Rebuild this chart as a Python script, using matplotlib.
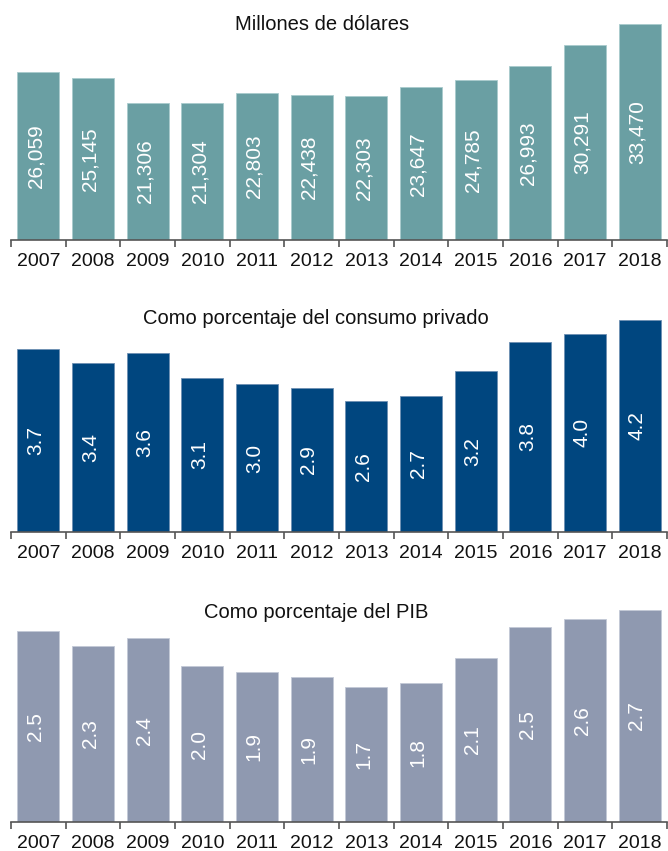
import matplotlib
matplotlib.use("Agg")
import matplotlib.pyplot as plt
from matplotlib.ticker import FixedLocator, NullFormatter
import numpy as np

years = ["2007", "2008", "2009", "2010", "2011", "2012", "2013", "2014", "2015", "2016", "2017", "2018"]
millones = [26059, 25145, 21306, 21304, 22803, 22438, 22303, 23647, 24785, 26993, 30291, 33470]
pct_consumo = [3.66, 3.39, 3.58, 3.08, 2.96, 2.88, 2.62, 2.73, 3.23, 3.81, 3.97, 4.24]
pct_pib = [2.46, 2.27, 2.37, 2.01, 1.94, 1.87, 1.74, 1.79, 2.12, 2.52, 2.62, 2.74]

titles = ["Millones de dólares", "Como porcentaje del consumo privado", "Como porcentaje del PIB"]
colors = ["#6a9fa3", "#00467f", "#8f99b0"]
edges = ["#a9cbcd", "#6e8fb3", "#c3c9d6"]
series = [millones, pct_consumo, pct_pib]
fmts = [lambda v: f"{v:,.0f}", lambda v: f"{v:.1f}", lambda v: f"{v:.1f}"]

W, H = 668, 851
# panel geometry in pixels: (top, baseline, ymax)
panels = [(10, 240, 35660), (300, 532, 4.64), (590, 822, 2.994)]
title_y = [25, 318, 612]

regular = ['Liberation Sans', 'DejaVu Sans']

fig = plt.figure(figsize=(W / 100, H / 100), dpi=100)
x = np.arange(len(years))
for i, (top, base, ymax) in enumerate(panels):
    ax = fig.add_axes([11 / W, 1 - base / H, 656 / W, (base - top) / H])
    vals = series[i]
    ax.bar(x, vals, width=0.77, color=colors[i], edgecolor=edges[i], linewidth=0.6, zorder=2)
    ax.set_xlim(-0.5, len(years) - 0.5)
    ax.set_ylim(0, ymax)
    for xi, v in zip(x, vals):
        ax.text(xi - 0.05, v / 2, fmts[i](v), rotation=90, ha='center', va='center',
                color='white', fontsize=15, family=regular)
    for s in ['top', 'right', 'left']:
        ax.spines[s].set_visible(False)
    ax.spines['bottom'].set_color('#555555')
    ax.spines['bottom'].set_linewidth(1.2)
    ax.set_yticks([])
    ax.set_xticks(x)
    ax.set_xticklabels(years, family=regular, fontsize=14, color='#111111')
    ax.tick_params(axis='x', which='major', length=0, pad=9)
    ax.xaxis.set_minor_locator(FixedLocator(np.arange(-0.5, len(years), 1.0)))
    ax.xaxis.set_minor_formatter(NullFormatter())
    ax.tick_params(axis='x', which='minor', length=5, width=1.2, color='#555555')
    fig.text(322 / W if i == 0 else 316 / W, 1 - title_y[i] / H, titles[i], ha='center', va='center',
             fontsize=14.5, family=regular, color='#111111')

fig.savefig("out.png", dpi=100)
